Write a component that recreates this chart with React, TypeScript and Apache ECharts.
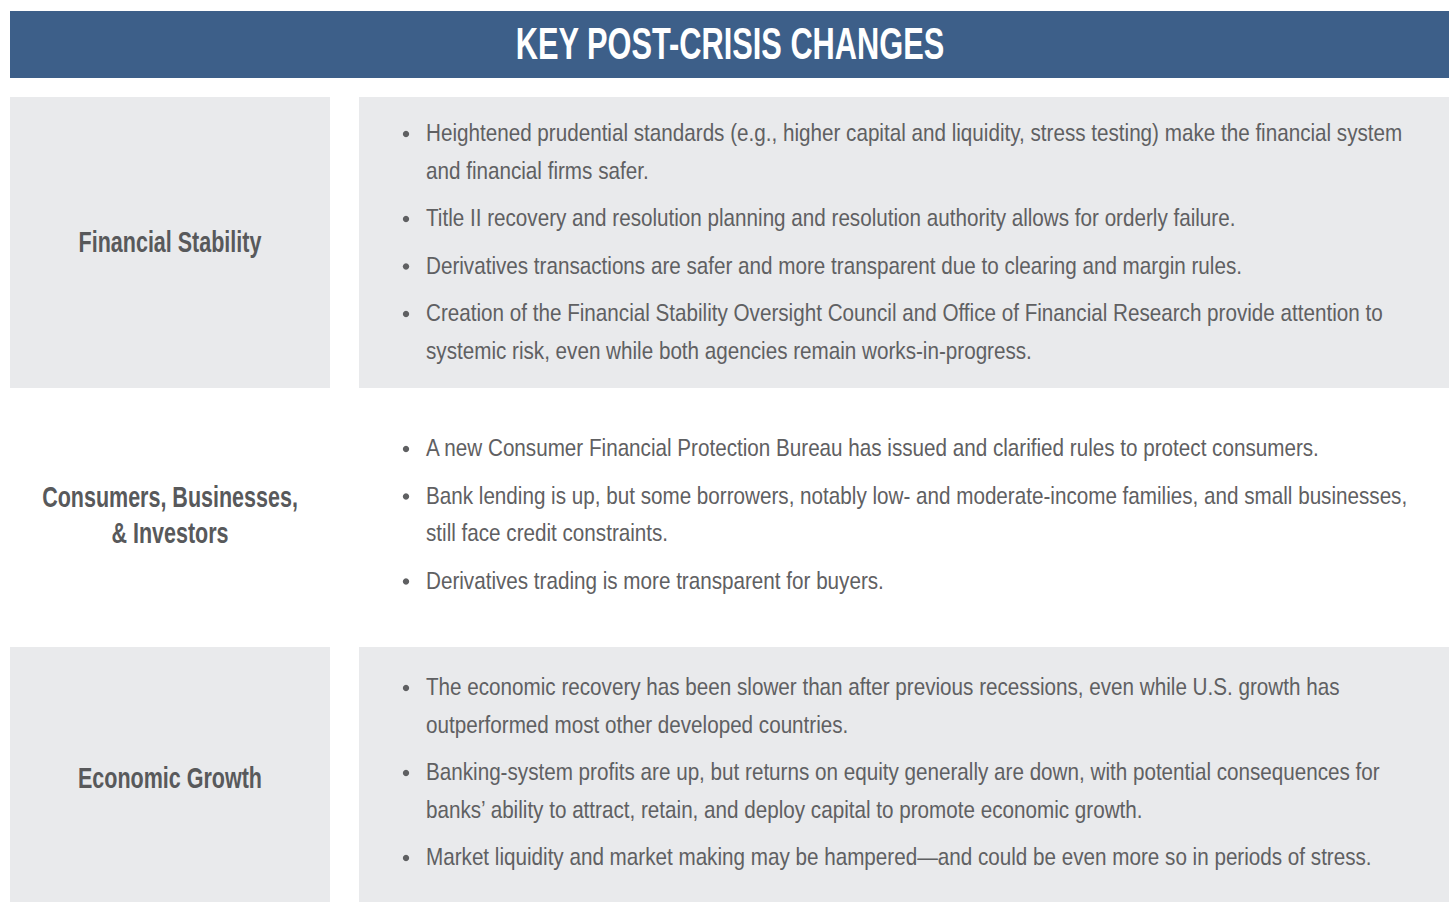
import React, { useEffect, useRef } from "react";
import * as echarts from "echarts";

const TITLE = "KEY POST-CRISIS CHANGES";

const categories: string[][] = [
  ["Financial Stability"],
  ["Consumers, Businesses,", "& Investors"],
  ["Economic Growth"],
];

const stabilityItems: string[][] = [
  [
    "Heightened prudential standards (e.g., higher capital and liquidity, stress testing) make the financial system",
    "and financial firms safer.",
  ],
  ["Title II recovery and resolution planning and resolution authority allows for orderly failure."],
  ["Derivatives transactions are safer and more transparent due to clearing and margin rules."],
  [
    "Creation of the Financial Stability Oversight Council and Office of Financial Research provide attention to",
    "systemic risk, even while both agencies remain works-in-progress.",
  ],
];

const consumerItems: string[][] = [
  ["A new Consumer Financial Protection Bureau has issued and clarified rules to protect consumers."],
  [
    "Bank lending is up, but some borrowers, notably low- and moderate-income families, and small businesses,",
    "still face credit constraints.",
  ],
  ["Derivatives trading is more transparent for buyers."],
];

const growthItems: string[][] = [
  [
    "The economic recovery has been slower than after previous recessions, even while U.S. growth has",
    "outperformed most other developed countries.",
  ],
  [
    "Banking-system profits are up, but returns on equity generally are down, with potential consequences for",
    "banks\u2019 ability to attract, retain, and deploy capital to promote economic growth.",
  ],
  ["Market liquidity and market making may be hampered\u2014and could be even more so in periods of stress."],
];

const rowItems = [stabilityItems, consumerItems, growthItems];

const FAMILY = '"Liberation Sans Narrow", "Liberation Sans", Arial, sans-serif';

function measure(text: string, font: string): number {
  const c = document.createElement("canvas").getContext("2d");
  if (!c) return 1;
  c.font = font;
  return c.measureText(text).width || 1;
}

export default function App() {
  const ref = useRef<HTMLDivElement>(null);
  useEffect(() => {
    if (!ref.current) return;
    const chart = echarts.init(ref.current, undefined, { renderer: "svg" });

    const W = 1454;
    const headerColor = "#3d5f89";
    const gray = "#e9eaec";
    const textColor = "#5f6062";
    const labelColor = "#58595b";

    const bodyFs = 24;
    const labelFs = 29;
    const titleFs = 44;
    const bodyScale = 977 / measure(stabilityItems[0][0], `${bodyFs}px ${FAMILY}`);
    const labelScale = 256 / measure(categories[1][0], `bold ${labelFs}px ${FAMILY}`);
    const titleScale = 429 / measure(TITLE, `bold ${titleFs}px ${FAMILY}`);

    const rows = [
      { top: 97, bottom: 388, filled: true, firstY: 133 },
      { top: 388, bottom: 647, filled: false, firstY: 448 },
      { top: 647, bottom: 920, filled: true, firstY: 687 },
    ];
    const lineGap = 37.5;
    const itemGap = 47.5;

    const elements: any[] = [];
    elements.push({
      type: "rect",
      shape: { x: 10, y: 11, width: W - 10 - 5, height: 67 },
      style: { fill: headerColor },
      silent: true,
    });
    elements.push({
      type: "text",
      x: 730,
      y: 44,
      scaleX: titleScale,
      style: {
        text: TITLE,
        fill: "#ffffff",
        font: `bold ${titleFs}px ${FAMILY}`,
        textAlign: "center",
        textVerticalAlign: "middle",
      },
      silent: true,
    });

    rows.forEach((row, ri) => {
      if (row.filled) {
        elements.push({
          type: "rect",
          shape: { x: 10, y: row.top, width: 320, height: row.bottom - row.top },
          style: { fill: gray },
          silent: true,
        });
        elements.push({
          type: "rect",
          shape: { x: 359, y: row.top, width: W - 359 - 5, height: row.bottom - row.top },
          style: { fill: gray },
          silent: true,
        });
      }
      // left label
      const lbl = categories[ri];
      const center = ri === 0 ? 242 : ri === 1 ? 514.5 : 778;
      const lblGap = 36;
      lbl.forEach((t, li) => {
        const y = center - ((lbl.length - 1) * lblGap) / 2 + li * lblGap;
        elements.push({
          type: "text",
          x: 170,
          y,
          scaleX: labelScale,
          style: {
            text: t,
            fill: labelColor,
            font: `bold ${labelFs}px ${FAMILY}`,
            textAlign: "center",
            textVerticalAlign: "middle",
          },
          silent: true,
        });
      });
      // bullets
      let y = row.firstY;
      rowItems[ri].forEach((item) => {
        elements.push({
          type: "circle",
          shape: { cx: 406, cy: y + 1, r: 3.2 },
          style: { fill: textColor },
          silent: true,
        });
        item.forEach((line, li) => {
          if (li > 0) y += lineGap;
          elements.push({
            type: "text",
            x: 426,
            y,
            scaleX: bodyScale,
            style: {
              text: line,
              fill: textColor,
              font: `${bodyFs}px ${FAMILY}`,
              textAlign: "left",
              textVerticalAlign: "middle",
            },
            silent: true,
          });
        });
        y += itemGap;
      });
    });

    chart.setOption({
      animation: false,
      backgroundColor: "#ffffff",
      graphic: { elements },
    });
    return () => chart.dispose();
  }, []);
  return (
    <div
      ref={ref}
      style={{ position: "absolute", left: 0, top: 0, width: 1454, height: 902 }}
    />
  );
}
